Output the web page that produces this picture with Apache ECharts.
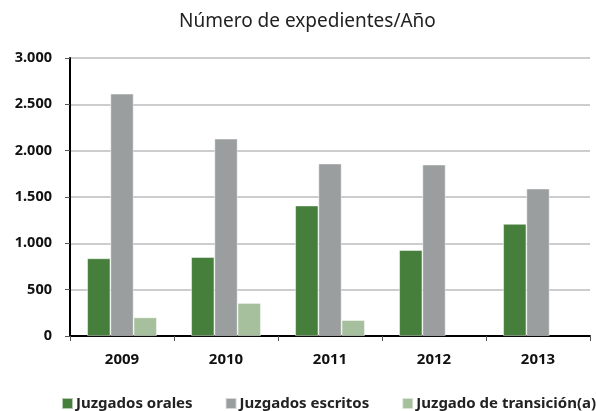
<!DOCTYPE html>
<html>
<head>
<meta charset="utf-8">
<script src="https://cdn.jsdelivr.net/npm/echarts@6/dist/echarts.min.js"></script>
<style>
  html, body { margin: 0; padding: 0; background: #fff; }
  #chart { width: 596px; height: 411px; }
</style>
</head>
<body>
<div id="chart"></div>
<script>
const years = ['2009', '2010', '2011', '2012', '2013'];
const orales = [838, 852, 1408, 927, 1210];
const escritos = [2615, 2130, 1861, 1850, 1591];
const transicion = [201, 356, 172, null, null];

const chart = echarts.init(document.getElementById('chart'));
const font = 'Noto Sans';

const bar = (name, data, color) => ({
  name,
  type: 'bar',
  data,
  barGap: 0,
  barCategoryGap: '33%',
  itemStyle: { color, borderColor: 'rgba(255,255,255,0.6)', borderWidth: 0.8 },
});

chart.setOption({
  animation: false,
  textStyle: { fontFamily: font },
  title: {
    text: 'Número de expedientes/Año',
    left: 174,
    top: 7,
    textStyle: { fontSize: 19, fontWeight: 'normal', color: '#222', fontFamily: font },
  },
  grid: { left: 70, right: 6, top: 58, bottom: 75 },
  legend: {
    top: 396,
    left: 61,
    width: 620,
    padding: 0,
    itemWidth: 11,
    itemHeight: 11,
    itemGap: 32,
    icon: 'rect',
    textStyle: { fontSize: 15, fontWeight: 'bold', color: '#222', fontFamily: font, padding: [0, 0, 0, -2] },
  },
  xAxis: {
    type: 'category',
    data: years,
    axisLine: { lineStyle: { color: '#000', width: 2 } },
    axisTick: { show: true, length: 5, lineStyle: { color: '#555' } },
    axisLabel: { fontSize: 15, fontWeight: 'bold', color: '#111', margin: 16 },
  },
  yAxis: {
    type: 'value',
    min: 0,
    max: 3000,
    interval: 500,
    axisLine: { show: true, lineStyle: { color: '#000', width: 2 } },
    axisTick: { show: true, length: 5, lineStyle: { color: '#555' } },
    axisLabel: {
      fontSize: 14.5,
      fontWeight: 'bold',
      color: '#111',
      margin: 18,
      formatter: (v) => String(v).replace(/\B(?=(\d{3})+(?!\d))/g, '.'),
    },
    splitLine: { lineStyle: { color: '#bdbdbd', width: 1.5 } },
  },
  series: [
    bar('Juzgados orales', orales, '#467e3b'),
    bar('Juzgados escritos', escritos, '#9b9e9f'),
    bar('Juzgado de transición(a)', transicion, '#a6bf9c'),
  ],
});
</script>
</body>
</html>
